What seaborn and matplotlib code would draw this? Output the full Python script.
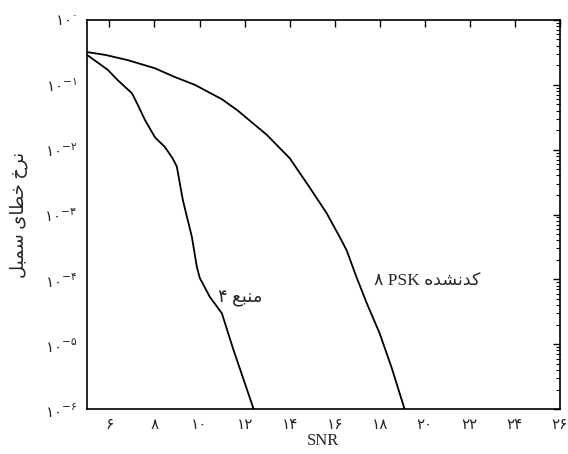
import numpy as np
import pandas as pd
import matplotlib
matplotlib.use('Agg')
import matplotlib.pyplot as plt
import matplotlib.ticker as mticker
import seaborn as sns

# --- Data (SNR in dB, symbol error rate) ---
snr_source4 = [5.0, 5.93, 6.37, 7.0, 7.26, 7.57, 8.02, 8.46, 8.8, 8.99,
               9.26, 9.66, 9.88, 10.01, 10.45, 10.99, 11.47, 12.4]
ser_source4 = [0.29, 0.17, 0.118, 0.074, 0.049, 0.029, 0.0155, 0.011, 0.0074, 0.0055,
               0.00166, 0.00045, 0.000155, 0.000105, 5.4e-05, 3.0e-05, 8.9e-06, 1.0e-06]

snr_psk8 = [5.0, 5.8, 6.82, 8.02, 8.9, 9.79, 10.99, 11.7, 12.23, 12.98,
            14.0, 14.89, 15.64, 16.22, 16.53, 16.97, 17.42, 17.99, 18.52, 19.1]
ser_psk8 = [0.32, 0.29, 0.24, 0.18, 0.132, 0.1, 0.06, 0.04, 0.028, 0.017,
            0.0074, 0.0026, 0.00105, 0.00045, 0.00028, 0.000107, 4.3e-05, 1.48e-05, 4.4e-06, 1.0e-06]

x_ticks = [6, 8, 10, 12, 14, 16, 18, 20, 22, 24, 26]
y_exponents = [0, -1, -2, -3, -4, -5, -6]

# Persian strings, already in visual (left-to-right) order with contextual forms,
# because matplotlib does no Arabic shaping itself
ylabel_text = '\uFEDE\uFE92\uFEE4\uFEB3 \uFBFC\uFE8E\uFEC4\uFEA7 \uFEA5\uFEAE\uFEE7'   # نرخ خطای سمبل
label_source4 = '\u06F4 \uFECA\uFE92\uFEE8\uFEE3'                                       # منبع ۴
label_psk8 = '\u06F8 PSK \uFEE9\uFEAA\uFEB8\uFEE7\uFEAA\uFB90'                         # کدنشده PSK ۸

PERSIAN_DIGITS = '۰۱۲۳۴۵۶۷۸۹'


def to_persian(n):
    return ''.join(PERSIAN_DIGITS[int(c)] if c.isdigit() else c for c in str(n))


df = pd.concat([
    pd.DataFrame({'snr': snr_source4, 'ser': ser_source4, 'curve': 'source4'}),
    pd.DataFrame({'snr': snr_psk8, 'ser': ser_psk8, 'curve': 'psk8'}),
])

sns.set_style('white')
plt.rcParams['font.family'] = ['Liberation Serif', 'DejaVu Sans']
plt.rcParams['mathtext.fontset'] = 'custom'
plt.rcParams['mathtext.rm'] = 'DejaVu Sans'
plt.rcParams['mathtext.it'] = 'DejaVu Sans'

fig = plt.figure(figsize=(5.68, 4.54), dpi=100)
ax = fig.add_axes([0.153, 0.099, 0.833, 0.857])

sns.lineplot(data=df, x='snr', y='ser', units='curve', estimator=None, sort=False,
             color='black', linewidth=1.3, ax=ax, legend=False)

ax.set_yscale('log')
ax.set_xlim(5, 26)
ax.set_ylim(1e-6, 1)

ax.set_xticks(x_ticks)
ax.xaxis.set_major_formatter(mticker.FuncFormatter(lambda v, p: to_persian(int(round(v)))))
ax.xaxis.set_minor_locator(mticker.NullLocator())

ax.yaxis.set_major_locator(mticker.FixedLocator([10.0 ** e for e in y_exponents]))
ax.yaxis.set_minor_locator(mticker.LogLocator(base=10, subs=np.arange(2, 10)))
ax.yaxis.set_minor_formatter(mticker.NullFormatter())


def y_fmt(v, p):
    e = int(round(np.log10(v)))
    sup = '-' + to_persian(-e) if e < 0 else to_persian(e)
    return '$\\mathrm{%s}^{\\mathrm{%s}}$' % (to_persian(10), sup)


ax.yaxis.set_major_formatter(mticker.FuncFormatter(y_fmt))

ax.tick_params(which='both', direction='in', top=True, right=True, color='black')
ax.tick_params(which='major', length=5, width=1, labelsize=11, pad=7)
ax.tick_params(which='minor', length=3, width=0.8)
for s in ax.spines.values():
    s.set_color('black')
    s.set_linewidth(1.2)

ax.set_xlabel('SNR', fontsize=12, labelpad=1)
ax.set_ylabel(ylabel_text, fontsize=13, labelpad=12)

ax.text(11.8, 10 ** -4.3, label_source4, fontsize=13, ha='center', va='center')
ax.text(20.1, 10 ** -4.03, label_psk8, fontsize=12.5, ha='center', va='center')

fig.savefig('out.png', dpi=100)
